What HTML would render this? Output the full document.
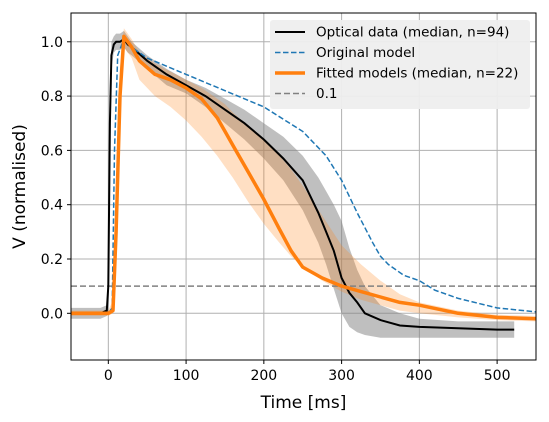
<!DOCTYPE html>
<html><head><meta charset="utf-8"><style>
html,body{margin:0;padding:0;background:#fff;}
svg{display:block;font-family:"DejaVu Sans","Liberation Sans",sans-serif;}
</style></head><body>
<svg id="chart" width="549" height="422" viewBox="0 0 549 422"></svg>
<script>
const xTicks=[0,100,200,300,400,500];
const yTicks=[0.0,0.2,0.4,0.6,0.8,1.0];
const yTickLabels=["0.0","0.2","0.4","0.6","0.8","1.0"];
const optT=[-48,-10,-2,0,2,4,7,10,15,20,25,30,50,75,100,125,150,175,200,225,250,270,280,290,300,310,320,330,350,375,400,450,500,522];
const optV=[0,0,0.01,0.1,0.7,0.95,0.99,1.0,1.0,1.01,0.99,0.98,0.93,0.88,0.84,0.80,0.75,0.70,0.64,0.57,0.49,0.37,0.30,0.23,0.13,0.075,0.04,0.0,-0.025,-0.045,-0.05,-0.055,-0.06,-0.06];
const optUp=[0.02,0.02,0.03,0.15,0.8,1.0,1.02,1.03,1.03,1.04,1.02,1.0,0.95,0.90,0.86,0.83,0.79,0.75,0.70,0.65,0.58,0.50,0.45,0.40,0.34,0.24,0.16,0.10,0.03,0.0,-0.02,-0.03,-0.03,-0.03];
const optLo=[-0.02,-0.02,-0.01,0.0,0.5,0.9,0.96,0.97,0.97,0.98,0.96,0.95,0.90,0.84,0.81,0.76,0.70,0.64,0.57,0.49,0.38,0.26,0.18,0.09,0.0,-0.05,-0.07,-0.08,-0.09,-0.09,-0.09,-0.09,-0.09,-0.09];
const origT=[-48,0,5,8,12,20,30,50,100,150,200,250,280,300,320,340,350,360,380,400,420,450,500,550];
const origV=[0,0,0.02,0.6,0.95,1.01,0.98,0.94,0.88,0.82,0.76,0.67,0.58,0.49,0.37,0.26,0.21,0.18,0.14,0.12,0.085,0.055,0.02,0.005];
const fitT=[-48,0,6,10,15,20,30,40,60,80,100,120,140,150,160,180,200,220,235,250,275,300,325,350,375,400,450,500,550];
const fitV=[0,0,0.01,0.3,0.8,1.02,0.98,0.93,0.88,0.86,0.83,0.79,0.72,0.67,0.62,0.52,0.42,0.31,0.23,0.17,0.13,0.10,0.08,0.06,0.04,0.03,0.0,-0.015,-0.02];
const fitUp=[0.01,0.01,0.05,0.45,0.9,1.05,1.01,0.96,0.92,0.89,0.86,0.83,0.79,0.77,0.74,0.69,0.64,0.58,0.53,0.47,0.36,0.25,0.18,0.12,0.07,0.04,0.01,-0.005,-0.01];
const fitLo=[-0.01,-0.01,0.0,0.15,0.7,0.98,0.94,0.86,0.80,0.76,0.71,0.65,0.58,0.54,0.50,0.41,0.33,0.26,0.21,0.17,0.12,0.08,0.05,0.03,0.01,0.0,-0.015,-0.025,-0.03];
const threshold=0.1;

const L=71,R=536,T=13,B=360;
const xMin=-48,xMax=550,yMin=-0.172,yMax=1.106;
const sx=v=>L+(v-xMin)/(xMax-xMin)*(R-L);
const sy=v=>B-(v-yMin)/(yMax-yMin)*(B-T);
const svg=document.getElementById('chart');
const NS='http://www.w3.org/2000/svg';
function mk(tag,attrs,parent){const e=document.createElementNS(NS,tag);for(const k in attrs)e.setAttribute(k,attrs[k]);(parent||svg).appendChild(e);return e;}
const line=(ts,vs)=>ts.map((t,i)=>(i?'L':'M')+sx(t).toFixed(1)+','+sy(vs[i]).toFixed(1)).join('');
const band=(ts,up,lo)=>{let d=ts.map((t,i)=>(i?'L':'M')+sx(t).toFixed(1)+','+sy(up[i]).toFixed(1)).join('');for(let i=ts.length-1;i>=0;i--)d+='L'+sx(ts[i]).toFixed(1)+','+sy(lo[i]).toFixed(1);return d+'Z';};

const defs=mk('defs',{});const cp=mk('clipPath',{id:'clip'},defs);mk('rect',{x:L,y:T,width:R-L,height:B-T},cp);

xTicks.forEach(v=>{const g=mk('line',{x1:sx(v),x2:sx(v),y1:T,y2:B,stroke:'#b0b0b0','stroke-width':1});

});
yTicks.forEach(v=>{const g=mk('line',{x1:L,x2:R,y1:sy(v),y2:sy(v),stroke:'#b0b0b0','stroke-width':1});

});

const plot=mk('g',{'clip-path':'url(#clip)'});


const b1=mk('path',{d:band(optT,optUp,optLo),fill:'#808080','fill-opacity':0.5},plot);


const b2=mk('path',{d:band(fitT,fitUp,fitLo),fill:'#ff7f0e','fill-opacity':0.25},plot);


const th=mk('line',{x1:L,x2:R,y1:sy(threshold),y2:sy(threshold),stroke:'#808080','stroke-width':1.5,'stroke-dasharray':'6,3'},plot);


const l1=mk('path',{d:line(optT,optV),fill:'none',stroke:'#000','stroke-width':2},plot);


const l2=mk('path',{d:line(origT,origV),fill:'none',stroke:'#1f77b4','stroke-width':1.5,'stroke-dasharray':'5.5,2.5'},plot);


const l3=mk('path',{d:line(fitT,fitV),fill:'none',stroke:'#ff7f0e','stroke-width':3.5,'stroke-linejoin':'round'},plot);



const fr=mk('rect',{x:L,y:T,width:R-L,height:B-T,fill:'none',stroke:'#000','stroke-width':1});



xTicks.forEach(v=>{mk('line',{x1:sx(v),x2:sx(v),y1:B,y2:B+4,stroke:'#000'});
const t=mk('text',{x:sx(v),y:B+20,'text-anchor':'middle','font-size':14});t.textContent=v;

});
yTicks.forEach((v,i)=>{mk('line',{x1:L-4,x2:L,y1:sy(v),y2:sy(v),stroke:'#000'});
const t=mk('text',{x:L-8,y:sy(v)+5,'text-anchor':'end','font-size':14});t.textContent=yTickLabels[i];

});

const xt=mk('text',{x:(L+R)/2,y:408,'text-anchor':'middle','font-size':17});xt.textContent='Time [ms]';


const yt=mk('text',{x:0,y:0,'text-anchor':'middle','font-size':17,transform:'translate(25,'+((T+B)/2)+') rotate(-90)'});yt.textContent='V (normalised)';



const lg=mk('g',{});


mk('rect',{x:270,y:20,width:260,height:89,rx:3,fill:'#eeeeee','fill-opacity':0.95,stroke:'none'},lg);
const entries=[['Optical data (median, n=94)','#000',2,'none'],['Original model','#1f77b4',1.5,'5.5,2.5'],['Fitted models (median, n=22)','#ff7f0e',3.5,'none'],['0.1','#808080',1.5,'6,3']];
entries.forEach((e,i)=>{const y=32+i*20.5;
const g=mk('g',{},lg);


mk('line',{x1:275,x2:305,y1:y,y2:y,stroke:e[1],'stroke-width':e[2],'stroke-dasharray':e[3]},g);
const t=mk('text',{x:316,y:y+4.5,'font-size':13.5},g);t.textContent=e[0];});
</script>
</body></html>
